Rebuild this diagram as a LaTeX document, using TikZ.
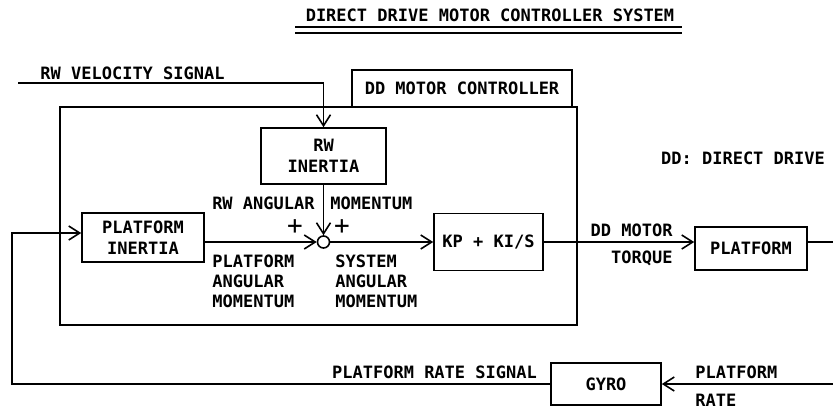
\documentclass[tikz,border=0pt]{standalone}
\usepackage{fontspec}
\setmainfont{DejaVu Sans Mono}
\usetikzlibrary{arrows.meta, positioning}
\tikzset{
  blk/.style ={rectangle, draw, line width=0.8pt, inner sep=0pt, align=center, font=\fontsize{8.5}{10.5}\selectfont\bfseries},
  lbl/.style ={inner sep=0pt, align=left, font=\fontsize{8.5}{10}\selectfont\bfseries},
  pls/.style ={inner sep=0pt, font=\fontsize{13}{13}\selectfont},
  sumpt/.style={circle, draw, line width=0.8pt, inner sep=0pt, minimum size=6pt},
  sig/.style ={-{Straight Barb[length=5.5pt,width=7pt]}, line width=0.8pt},
  wire/.style={line width=0.8pt},
}

\begin{document}
\begin{tikzpicture}[x=0.5pt, y=-0.5pt]
  \useasboundingbox (0,0) rectangle (833,408);
  % title and note
  \node[lbl] (title) at (490,15) {DIRECT DRIVE MOTOR CONTROLLER SYSTEM};
  \draw[wire] (295,27) -- (682,27);
  \draw[wire] (295,33) -- (682,33);
  \node[lbl] (ddnote) at (743,158) {DD: DIRECT DRIVE};

  % controller frame
  \node[blk, minimum width=258.5pt, minimum height=109pt] (ctrl) at (318.5,216) {};
  \node[blk, minimum width=110pt, minimum height=18.5pt] (ctrltab) at (462,88.5) {DD MOTOR CONTROLLER};

  % blocks
  \node[blk, minimum width=62.5pt, minimum height=28pt] (rwin) at (323.5,156) {RW\\INERTIA};
  \node[sumpt] (sum) at (323.5,242) {};
  \node[blk, minimum width=61pt, minimum height=24.5pt] (plin) at (143,237.5) {PLATFORM\\INERTIA};
  \node[blk, minimum width=54.5pt, minimum height=28.5pt] (kp) at (488.5,242) {KP + KI/S};
  \node[blk, minimum width=56pt, minimum height=21.5pt] (plat) at (751,248.5) {PLATFORM};
  \node[blk, minimum width=55pt, minimum height=21pt] (gyro) at (606,384) {GYRO};

  % free ends
  \coordinate (rwsrc) at (18,83);
  \coordinate (fbturn) at (12,233);
  \coordinate (outR) at (833,242);
  \coordinate (rateR) at (833,384);

  % connectors
  \draw[sig] (rwsrc) -| (rwin.north);
  \draw[sig] (rwin.south) -- (sum.north);
  \draw[sig] (plin.east |- sum) -- (sum.west);
  \draw[sig] (sum.east) -- (kp.west |- sum);
  \draw[sig] (kp.east) -- (plat.west |- kp);
  \draw[wire] (plat.east |- kp) -- (outR);
  \draw[sig] (rateR) -- (gyro.east);
  \draw[sig] (gyro.west) -| (fbturn) -- (fbturn -| plin.west);

  % labels
  \node[lbl, anchor=west] (rwvel) at (40,73) {RW VELOCITY SIGNAL};
  \node[lbl, anchor=east] (rwang) at (315,203) {RW ANGULAR};
  \node[lbl, anchor=west] (rwmom) at (330,203) {MOMENTUM};
  \node[pls] (plus1) at (295,227) {+};
  \node[pls] (plus2) at (342,227) {+};
  \node[lbl, anchor=north west] (plmom) at (212,254) {PLATFORM\\ANGULAR\\MOMENTUM};
  \node[lbl, anchor=north west] (sysmom) at (335,254) {SYSTEM\\ANGULAR\\MOMENTUM};
  \node[lbl, anchor=east] (torq1) at (673,230) {DD MOTOR};
  \node[lbl, anchor=east] (torq2) at (673,258) {TORQUE};
  \node[lbl] (ratesig) at (434.5,372) {PLATFORM RATE SIGNAL};
  \node[lbl, anchor=west] (rate1) at (695,372) {PLATFORM};
  \node[lbl, anchor=west] (rate2) at (695,400) {RATE};
\end{tikzpicture}
\end{document}
